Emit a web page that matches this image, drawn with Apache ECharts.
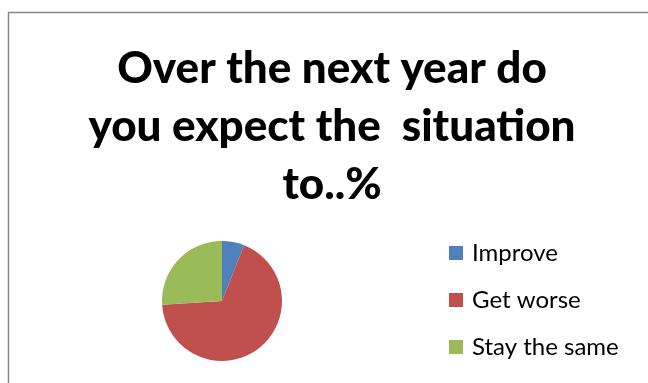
<!DOCTYPE html>
<html>
<head>
<meta charset="utf-8">
<script src="https://cdn.jsdelivr.net/npm/echarts@6/dist/echarts.min.js"></script>
<style>
  html, body { margin: 0; padding: 0; background: #ffffff; }
  #chart { width: 648px; height: 383px; }
</style>
</head>
<body>
<div id="chart"></div>
<script>
// Survey answers (percent)
const categories = ['Improve', 'Get worse', 'Stay the same'];
const percentages = [6, 68, 26];
const sliceColors = ['#4f81bd', '#c0504d', '#9bbb59'];

const chart = echarts.init(document.getElementById('chart'));

chart.setOption({
  animation: false,
  graphic: [{
    type: 'rect',
    shape: { x: 8.5, y: 12.5, width: 700, height: 420 },
    style: { fill: 'none', stroke: '#878787', lineWidth: 1.5 },
    silent: true
  }],
  title: {
    text: 'Over the next year do\nyou expect the  situation\nto..%',
    left: 332,
    top: 40,
    padding: 0,
    textAlign: 'center',
    textStyle: {
      fontFamily: 'Lato',
      fontWeight: 900,
      fontSize: 44,
      lineHeight: 58,
      color: '#000000'
    }
  },
  legend: {
    orient: 'vertical',
    left: 449,
    top: 241,
    padding: 0,
    itemWidth: 14,
    itemHeight: 14,
    itemGap: 23,
    icon: 'rect',
    data: categories,
    textStyle: {
      fontFamily: 'Lato',
      fontSize: 24,
      lineHeight: 24,
      color: '#000000',
      padding: [0, 0, 0, 4]
    }
  },
  series: [{
    type: 'pie',
    center: [222, 301],
    radius: 60,
    startAngle: 90,
    clockwise: true,
    label: { show: false },
    labelLine: { show: false },
    itemStyle: { borderWidth: 0 },
    emphasis: { disabled: true },
    data: categories.map((name, i) => ({
      name: name,
      value: percentages[i],
      itemStyle: { color: sliceColors[i] }
    }))
  }]
});
</script>
</body>
</html>
